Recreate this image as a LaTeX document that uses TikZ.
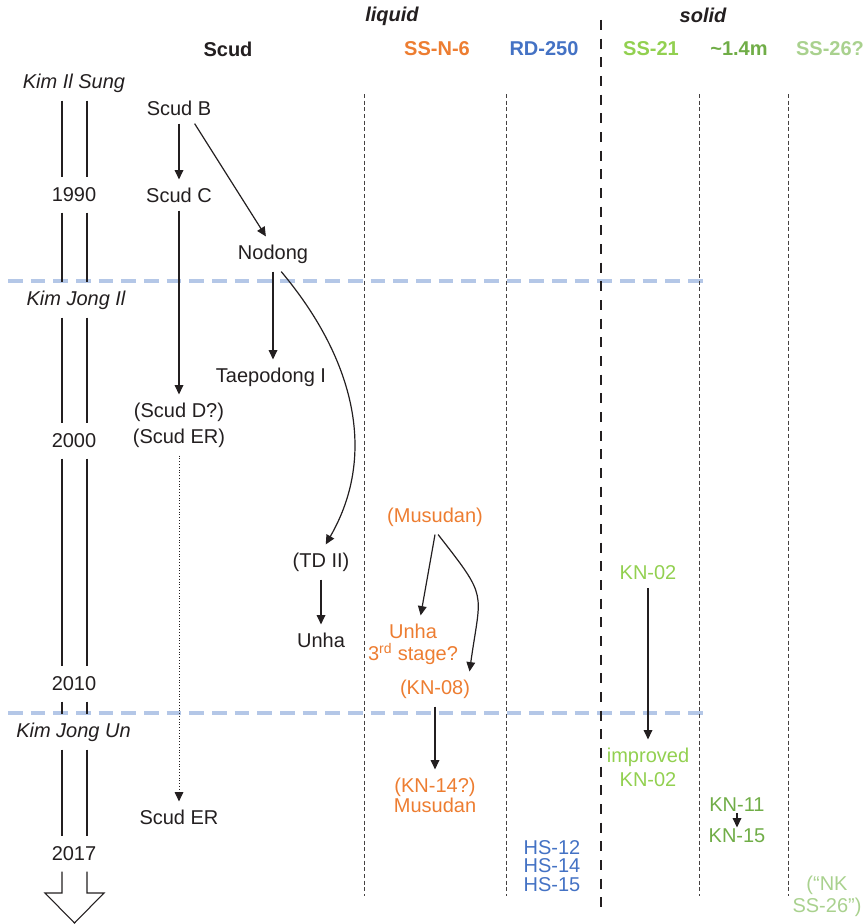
\documentclass[tikz,border=0pt]{standalone}
\usepackage{fontspec}
\setmainfont{Liberation Sans}
\usetikzlibrary{arrows.meta}
\definecolor{ink}{HTML}{231F20}
\definecolor{fuel-orange}{HTML}{ED7D31}
\definecolor{engine-blue}{HTML}{4472C4}
\definecolor{solid-green}{HTML}{92D050}
\definecolor{dark-green}{HTML}{70AD47}
\definecolor{pale-green}{HTML}{A9D18E}
\definecolor{era-blue}{HTML}{B4C7E7}
\newcommand{\fsz}[1]{\fontsize{15}{#1}\selectfont}

\begin{document}
\begin{tikzpicture}[x=0.75pt, y=-0.75pt,
    every node/.style={font=\fsz{18}, text=ink, inner sep=6pt},
    hdr/.style={font=\fsz{18}\bfseries},
    grp/.style={font=\fsz{18}\bfseries\itshape},
    yr/.style={minimum height=26pt, inner sep=0pt},
    era/.style={yr, font=\fsz{18}\itshape},
    arr/.style={draw=ink, line width=0.9pt, -{Triangle[length=7pt,width=6.5pt]}},
    col/.style={draw=ink!85, line width=0.7pt, dash pattern=on 3pt off 2pt},
    reign/.style={era-blue, line width=2.4pt, dash pattern=on 11pt off 6pt}]
    \useasboundingbox (0,0) rectangle (867,924);
    \draw[reign] (8,281) -- (707,281);
    \draw[reign] (8,713) -- (707,713);
    \foreach \x in {364,506,699,788}
      \draw[col] (\x,94) -- (\x,896);
    \draw[ink, line width=2.2pt, dash pattern=on 7.5pt off 6.5pt] (601,20) -- (601,912);

    \node[grp] (liq) at (392,16) {liquid};
    \node[grp] (sol) at (703,15) {solid};
    \node[hdr] (hscud) at (228,49) {Scud};
    \node[hdr, text=fuel-orange] (hssn6) at (437,49) {SS-N-6};
    \node[hdr, text=engine-blue] (hrd) at (544,49) {RD-250};
    \node[hdr, text=solid-green] (hss21) at (651,49) {SS-21};
    \node[hdr, text=dark-green] (h14) at (739,49) {\textasciitilde 1.4m};
    \node[hdr, text=pale-green] (hss26) at (830,49) {SS-26?};

    \coordinate (rl) at (62,0);
    \coordinate (rr) at (87,0);
    \coordinate (tip) at (74.5,923);
    \node[era] (kis) at (74,83) {Kim Il Sung};
    \node[yr] (y1990) at (74,195) {1990};
    \node[era] (kji) at (76,300) {Kim Jong Il};
    \node[yr] (y2000) at (74,441) {2000};
    \node[yr] (y2010) at (74,684) {2010};
    \node[era] (kju) at (73.5,732) {Kim Jong Un};
    \node[yr] (y2017) at (74,854) {2017};
    \foreach \a/\b in {kis/y1990, y1990/kji, kji/y2000, y2000/y2010, y2010/kju, kju/y2017}
      \draw[ink, line width=0.8pt] (\a.south -| rl) -- (\b.north -| rl)
        (\a.south -| rr) -- (\b.north -| rr);
    \draw[ink, line width=0.8pt, fill=white] (y2017.south -| rl) -- (62,893) -- (45,893)
      -- (tip) -- (104,893) -- (87,893) -- (y2017.south -| rr);

    \node (scudb) at (179,108) {Scud B};
    \node (scudc) at (179,195) {Scud C};
    \node (nodong) at (273,254) {Nodong};
    \node (tpd) at (271,377) {Taepodong I};
    \node[align=center, font=\fsz{19.5}] (scudd) at (179,425) {(Scud D?)\\(Scud ER)};
    \node (scuder) at (179,817) {Scud ER};
    \node (tdii) at (321,562) {(TD II)};
    \node (unha) at (321,640) {Unha};
    \node[text=fuel-orange] (musudan) at (435,517) {(Musudan)};
    \node[text=fuel-orange, align=center, font=\fsz{16.5}] (unha3) at (413,644)
      {Unha\\3\textsuperscript{rd} stage?};
    \node[text=fuel-orange] (kn08) at (435,689) {(KN-08)};
    \node[text=fuel-orange, align=center, font=\fsz{15}] (kn14) at (435,795) {(KN-14?)\\Musudan};
    \node[text=solid-green] (kn02) at (648,573) {KN-02};
    \node[text=solid-green, align=center, font=\fsz{18}] (kn02i) at (648,767) {improved\\KN-02};
    \node[text=dark-green, inner ysep=1pt] (kn11) at (737,805) {KN-11};
    \node[text=dark-green, inner ysep=1pt] (kn15) at (737,836) {KN-15};
    \node[text=engine-blue, align=center, font=\fsz{13.6}] (hs) at (552,866) {HS-12\\HS-14\\HS-15};
    \node[text=pale-green, align=center, font=\fsz{16.5}] (nkss26) at (827,896) {(“NK\\SS-26”)};

    \draw[arr] (scudb) -- (scudc);
    \draw[arr] (scudb.-45) -- (nodong.112);
    \draw[arr] (scudc) -- (scudd);
    \draw[arr, line width=0.7pt, dash pattern=on 0.8pt off 1.3pt] (scudd) -- (scuder);
    \draw[arr] (nodong) -- (nodong |- tpd.north);
    \draw[arr] (nodong.-65) to[out=-50, in=60] (tdii.75);
    \draw[arr] (tdii) -- (unha);
    \draw[arr] (musudan.south) -- (unha3.75);
    \draw[arr] (musudan.-80) to[out=-52, in=82, looseness=1.5] (kn08.27);
    \draw[arr] (kn08) -- (kn14);
    \draw[arr] (kn02) -- (kn02i);
    \draw[arr] (kn11) -- (kn15);
  \end{tikzpicture}
\end{document}
